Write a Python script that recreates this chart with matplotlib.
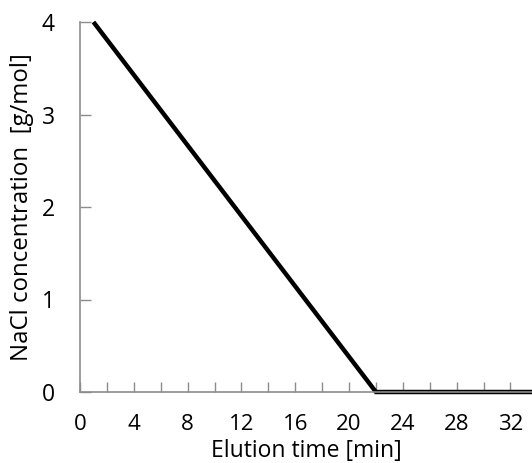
import matplotlib
matplotlib.use("Agg")
import matplotlib.pyplot as plt

# Gradient profile: NaCl concentration vs elution time
time_min = [1, 22, 34]
nacl_conc = [4, 0, 0]
x_ticks = [0, 4, 8, 12, 16, 20, 24, 28, 32]
x_minor = list(range(0, 34, 2))
y_ticks = [0, 1, 2, 3, 4]

plt.rcParams['font.family'] = ['Open Sans', 'DejaVu Sans']

fig = plt.figure(figsize=(5.32, 4.63), dpi=100)
ax_h = (392 - 22) / 463
ax_w = 1 - 80 / 532
ax = fig.add_axes([80 / 532, 1 - 392 / 463, ax_w, ax_h])

ax.plot(time_min, nacl_conc, color='black', lw=3.2, clip_on=False,
        solid_capstyle='butt', solid_joinstyle='miter')

ax.set_xlim(0, 33.6)
ax.set_ylim(0, 4)

gray = '#8c8c8c'
for side in ('top', 'right'):
    ax.spines[side].set_visible(False)
for side in ('left', 'bottom'):
    ax.spines[side].set_color(gray)
    ax.spines[side].set_linewidth(1.2)

ax.set_xticks(x_minor)
ax.set_xticklabels([str(v) if v in x_ticks else '' for v in x_minor])
ax.set_yticks(y_ticks)
ax.tick_params(axis='x', direction='in', length=7, width=1, color=gray,
               labelsize=16, pad=16)
ax.tick_params(axis='y', direction='in', length=8, width=1, color=gray,
               labelsize=16.5, pad=18)

xl = ax.set_xlabel('Elution time [min]', fontsize=16.5)
yl = ax.set_ylabel('NaCl concentration  [g/mol]', fontsize=17.3)
xl.set_va('center')
yl.set_va('center')
ax.xaxis.set_label_coords(0.5, -59 / 370)
ax.yaxis.set_label_coords(-58 / 452, 0.5)

fig.savefig('out.png', dpi=100)
